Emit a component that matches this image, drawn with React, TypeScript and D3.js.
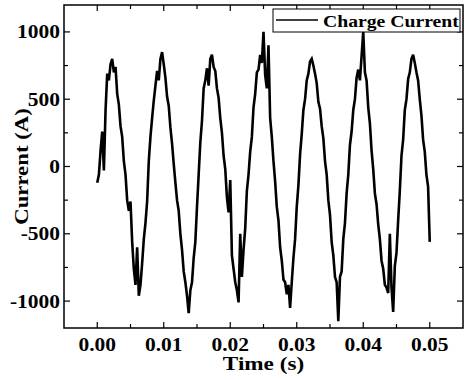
import React from "react";
import * as d3 from "d3";

// ---- data ----
const sampleStep = 0.00025; // s between samples
const startTime = 0;
const chargeCurrent: number[] = [
  -120, -60, 120, 260, -30, 420, 690, 640, 760, 800,
  700, 740, 540, 460, 300, 220, 40, -60, -250, -330,
  -260, -560, -760, -880, -600, -960, -880, -720, -540, -420,
  -260, 40, 220, 360, 490, 600, 710, 640, 800, 850,
  760, 660, 520, 450, 290, 170, 20, -120, -250, -330,
  -500, -620, -780, -860, -960, -1090, -920, -860, -680, -560,
  -300, -60, 180, 340, 580, 640, 730, 600, 800, 830,
  740, 710, 580, 510, 360, 250, 80, -20, -230, -340,
  -100, -660, -760, -860, -920, -1010, -500, -820, -620, -460,
  -180, -60, 110, 220, 440, 540, 700, 720, 830, 770,
  1000, 680, 580, 900, 360, 220, 40, -110, -300, -400,
  -600, -700, -840, -860, -950, -880, -1050, -860, -680, -540,
  -300, -140, 90, 240, 420, 500, 640, 690, 780, 800,
  750, 690, 620, 480, 430, 300, 210, 40, -60, -250,
  -360, -560, -660, -820, -860, -1150, -820, -780, -540, -420,
  -200, -60, 160, 260, 420, 500, 660, 720, 640, 820,
  1000, 700, 640, 440, 320, 120, -20, -200, -280, -430,
  -540, -700, -760, -880, -900, -940, -500, -900, -1080, -740,
  -640, -400, -180, 80, 200, 420, 500, 650, 700, 800,
  830, 770, 700, 640, 500, 380, 200, 110, -60, -150,
  -560,
];

const xMajorTicks = [0, 0.01, 0.02, 0.03, 0.04, 0.05];
const xTickLabels = ["0.00", "0.01", "0.02", "0.03", "0.04", "0.05"];
const xMinorTicks = [0.005, 0.015, 0.025, 0.035, 0.045];
const yMajorTicks = [-1000, -500, 0, 500, 1000];
const yTickLabels = ["-1000", "-500", "0", "500", "1000"];
const yMinorTicks = [-750, -250, 250, 750];
const xDomain = [-0.005, 0.055];
const yDomain = [-1200, 1200];
const seriesName = "Charge Current";
const xTitle = "Time (s)";
const yTitle = "Current (A)";

export default function App() {
  const W = 465;
  const H = 380;
  const left = 64;
  const right = 463;
  const top = 5;
  const bottom = 328;

  const x = d3.scaleLinear().domain(xDomain).range([left, right]);
  const y = d3.scaleLinear().domain(yDomain).range([bottom, top]);

  const pts: [number, number][] = chargeCurrent.map((v, i) => [
    startTime + i * sampleStep,
    v,
  ]);
  const line = d3
    .line<[number, number]>()
    .x((d) => x(d[0]))
    .y((d) => y(d[1]));

  const font = "'Liberation Serif', 'Times New Roman', serif";
  const major = 6;
  const minor = 4;

  return (
    <svg
      width={W}
      height={H}
      style={{ position: "absolute", left: 0, top: 0, background: "#fff" }}
    >
      <rect x={0} y={0} width={W} height={H} fill="#fff" />
      <defs>
        <clipPath id="plotclip">
          <rect x={left} y={top} width={right - left} height={bottom - top} />
        </clipPath>
      </defs>
      <path
        d={line(pts) || ""}
        fill="none"
        stroke="#000"
        strokeWidth={2.6}
        strokeLinejoin="miter"
        strokeMiterlimit={3}
        clipPath="url(#plotclip)"
      />
      {/* frame */}
      <rect
        x={left}
        y={top}
        width={right - left}
        height={bottom - top}
        fill="none"
        stroke="#000"
        strokeWidth={1.5}
      />
      {/* x ticks bottom + top */}
      {xMajorTicks.map((t) => (
        <g key={"xm" + t}>
          <line x1={x(t)} x2={x(t)} y1={bottom} y2={bottom - major} stroke="#000" strokeWidth={1.2} />
          <line x1={x(t)} x2={x(t)} y1={top} y2={top + major} stroke="#000" strokeWidth={1.2} />
        </g>
      ))}
      {xMinorTicks.map((t) => (
        <g key={"xn" + t}>
          <line x1={x(t)} x2={x(t)} y1={bottom} y2={bottom - minor} stroke="#000" strokeWidth={1.2} />
          <line x1={x(t)} x2={x(t)} y1={top} y2={top + minor} stroke="#000" strokeWidth={1.2} />
        </g>
      ))}
      {yMajorTicks.map((t) => (
        <g key={"ym" + t}>
          <line x1={left} x2={left + major} y1={y(t)} y2={y(t)} stroke="#000" strokeWidth={1.2} />
          <line x1={right} x2={right - major} y1={y(t)} y2={y(t)} stroke="#000" strokeWidth={1.2} />
        </g>
      ))}
      {yMinorTicks.map((t) => (
        <g key={"yn" + t}>
          <line x1={left} x2={left + minor} y1={y(t)} y2={y(t)} stroke="#000" strokeWidth={1.2} />
          <line x1={right} x2={right - minor} y1={y(t)} y2={y(t)} stroke="#000" strokeWidth={1.2} />
        </g>
      ))}
      {/* tick labels */}
      {xMajorTicks.map((t, i) => (
        <text
          key={"xl" + t}
          transform={`translate(${x(t)}, 351) scale(1.13, 1)`}
          textAnchor="middle"
          fontFamily={font}
          fontWeight="bold"
          fontSize={19}
        >
          {xTickLabels[i]}
        </text>
      ))}
      {yMajorTicks.map((t, i) => (
        <text
          key={"yl" + t}
          transform={`translate(60, ${y(t) + 6.5}) scale(1.13, 1)`}
          textAnchor="end"
          fontFamily={font}
          fontWeight="bold"
          fontSize={19}
        >
          {yTickLabels[i]}
        </text>
      ))}
      {/* axis titles */}
      <text
        transform={`translate(${(left + right) / 2}, 370) scale(1.22, 1)`}
        textAnchor="middle"
        fontFamily={font}
        fontWeight="bold"
        fontSize={19}
      >
        {xTitle}
      </text>
      <text
        transform={`translate(28, ${(top + bottom) / 2}) rotate(-90) scale(1.2, 1)`}
        textAnchor="middle"
        fontFamily={font}
        fontWeight="bold"
        fontSize={19}
      >
        {yTitle}
      </text>
      {/* legend */}
      <rect x={273} y={9} width={187} height={23} fill="#fff" stroke="#000" strokeWidth={1} />
      <line x1={276} x2={318} y1={20} y2={20} stroke="#000" strokeWidth={1.5} />
      <text
        transform="translate(323, 27) scale(1.12, 1)"
        fontFamily={font}
        fontWeight="bold"
        fontSize={17.6}
      >
        {seriesName}
      </text>
    </svg>
  );
}
